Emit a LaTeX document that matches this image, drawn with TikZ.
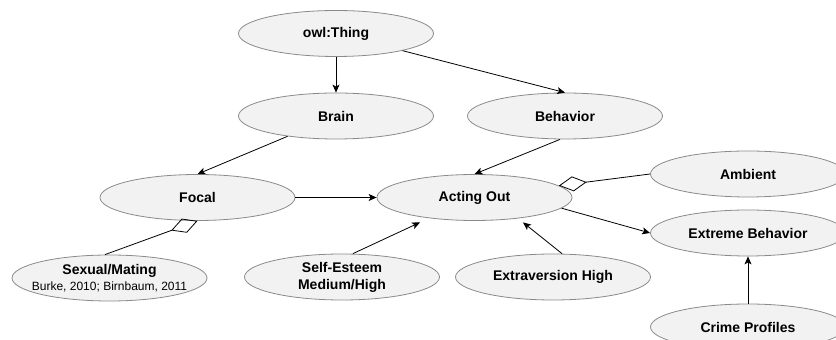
\documentclass[tikz,border=0pt]{standalone}
\usepackage{fontspec}
\setmainfont{Liberation Sans}
\usetikzlibrary{shapes.geometric,arrows.meta}
\definecolor{ellfill}{HTML}{F2F2F2}
\definecolor{ellline}{HTML}{8A8A8A}
\tikzset{
  concept/.style={ellipse, draw=ellline, fill=ellfill, line width=0.8pt,
    minimum width=195pt, minimum height=46pt, inner sep=0pt, align=center,
    font=\fontsize{14}{17}\selectfont\bfseries},
  isa/.style={line width=0.8pt, -{Stealth[length=8pt,width=7pt,inset=2pt]}},
  part/.style={line width=0.8pt, {Diamond[open,length=28pt,width=15pt]}-}
}
\begin{document}
\begin{tikzpicture}[x=1pt,y=1pt]
\useasboundingbox (0,0) rectangle (836,340);
\node[concept] (thing) at (336,306.5) {owl:Thing};
\node[concept] (brain) at (336,224) {Brain};
\node[concept] (behavior) at (565,224) {Behavior};
\node[concept] (focal) at (197.5,142.5) {Focal};
\node[concept] (acting) at (474.5,142.5) {Acting Out};
\node[concept] (ambient) at (748,166) {Ambient};
\node[concept] (extreme) at (748,107) {Extreme Behavior};
\node[concept, inner xsep=-9pt] (sexual) at (109.5,62) {Sexual/Mating\\[-1pt]{\fontsize{12}{14}\selectfont\mdseries Burke, 2010; Birnbaum, 2011}};
\node[concept] (selfest) at (342,63) {Self-Esteem\\Medium/High};
\node[concept] (extra) at (553,63) {Extraversion High};
\node[concept] (crime) at (748,13) {Crime Profiles};

\draw[isa] (thing) -- (brain);
\draw[isa] (thing) -- (behavior.north);
\draw[isa] (brain) -- (focal.north);
\draw[isa] ([xshift=-5pt]behavior.south) -- (acting.north);
\draw[isa] (focal) -- (acting);
\draw[part] (focal.south) -- ([xshift=-4.5pt]sexual.north);
\draw[part] (acting.8) -- (ambient.west);
\draw[isa] (acting.-7) -- (extreme.west);
\draw[isa] ([xshift=11pt]selfest.north) -- ([xshift=-54.5pt,yshift=-1.5pt]acting.south);
\draw[isa] ([xshift=9pt]extra.north) -- ([xshift=48.5pt,yshift=-1.5pt]acting.south);
\draw[isa] (crime) -- (extreme);
\end{tikzpicture}
\end{document}
